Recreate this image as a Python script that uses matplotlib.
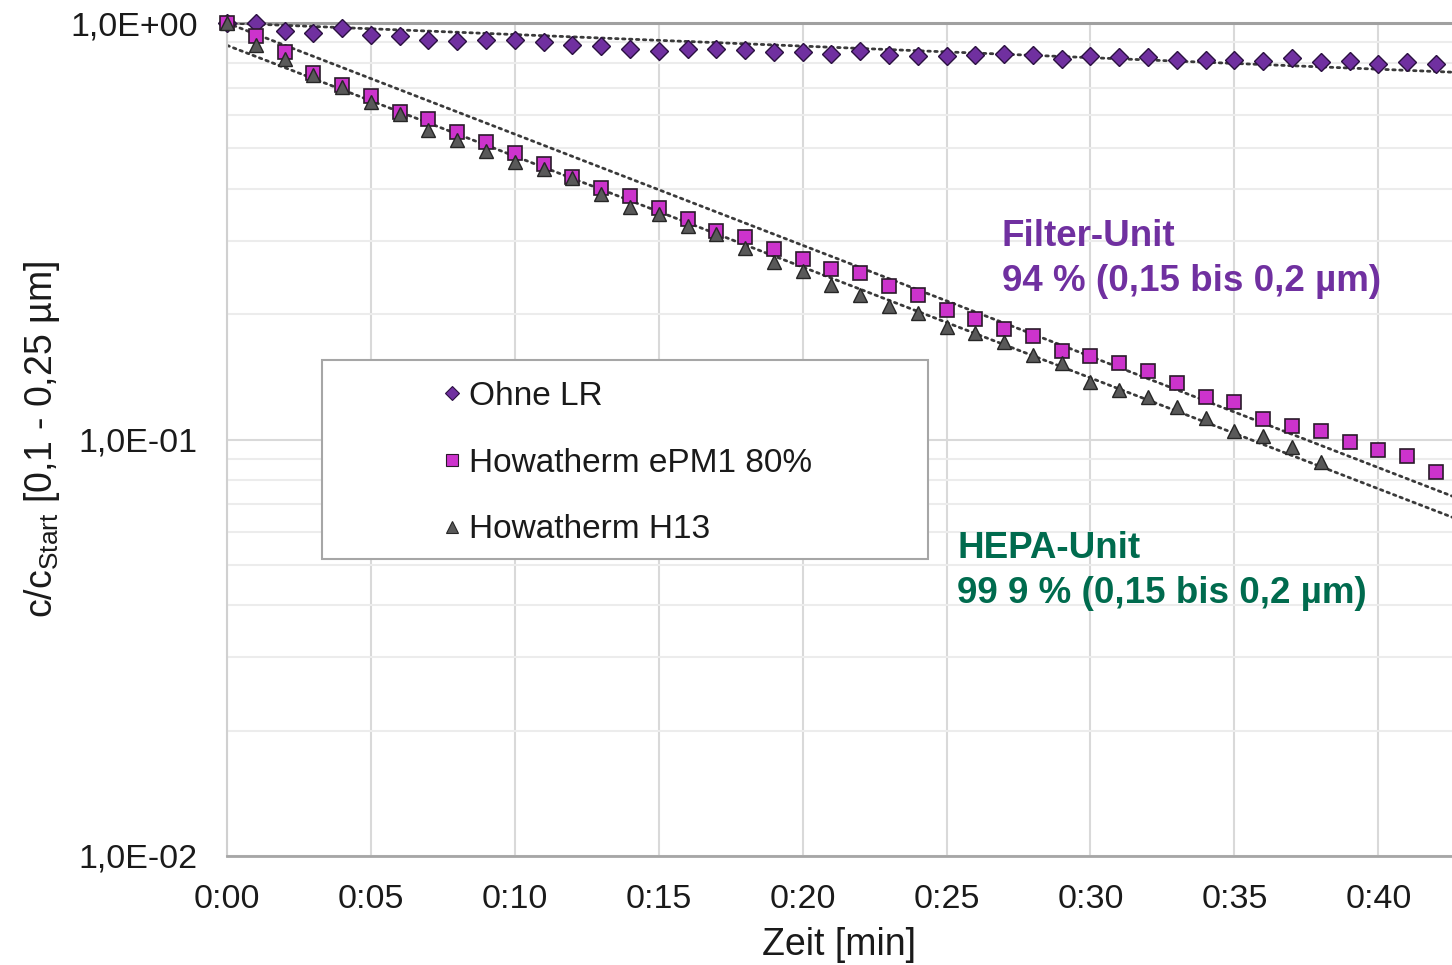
import numpy as np
import matplotlib
matplotlib.use("Agg")
import matplotlib.pyplot as plt
from matplotlib.lines import Line2D
from matplotlib.patches import Rectangle

plt.rcParams['font.family'] = ['Liberation Sans', 'DejaVu Sans']
plt.rcParams['mathtext.fontset'] = 'custom'
plt.rcParams['mathtext.rm'] = 'Liberation Sans'

# ---- data (minutes, c/c_start) ----
t_ohne = list(range(0, 43))
c_ohne = [1.000, 0.998, 0.958, 0.945, 0.971, 0.936, 0.929, 0.912, 0.907, 0.912,
          0.912, 0.899, 0.885, 0.882, 0.866, 0.855, 0.866, 0.866, 0.861, 0.851,
          0.853, 0.843, 0.855, 0.839, 0.835, 0.832, 0.838, 0.841, 0.838, 0.820,
          0.833, 0.827, 0.830, 0.816, 0.815, 0.815, 0.811, 0.823, 0.805, 0.812,
          0.797, 0.805, 0.797]

t_epm1 = list(range(0, 43))
c_epm1 = [1.000, 0.932, 0.850, 0.759, 0.710, 0.669, 0.610, 0.588, 0.548, 0.517,
          0.488, 0.459, 0.426, 0.401, 0.384, 0.359, 0.338, 0.317, 0.306, 0.287,
          0.272, 0.257, 0.251, 0.234, 0.222, 0.205, 0.195, 0.184, 0.1775, 0.163,
          0.159, 0.1527, 0.1463, 0.1367, 0.1263, 0.1232, 0.112, 0.1076, 0.105, 0.0988,
          0.0945, 0.0911, 0.0837]

t_h13 = list(range(0, 39))
c_h13 = [1.000, 0.885, 0.820, 0.750, 0.701, 0.645, 0.605, 0.554, 0.525, 0.493,
         0.465, 0.446, 0.424, 0.3886, 0.361, 0.347, 0.326, 0.311, 0.288, 0.267,
         0.2535, 0.2355, 0.222, 0.209, 0.201, 0.186, 0.180, 0.171, 0.1595, 0.1527,
         0.1372, 0.1317, 0.1263, 0.1195, 0.1124, 0.105, 0.1018, 0.0958, 0.0882]

labels = ["Ohne LR", "Howatherm ePM1 80%", "Howatherm H13"]
x_ticks = [0, 5, 10, 15, 20, 25, 30, 35, 40]
x_ticklabels = ["0:00", "0:05", "0:10", "0:15", "0:20", "0:25", "0:30", "0:35", "0:40"]
y_ticks = [0.01, 0.1, 1.0]
y_ticklabels = ["1,0E-02", "1,0E-01", "1,0E+00"]

W, H = 1452, 965
fig = plt.figure(figsize=(W / 100, H / 100), dpi=100)
ax = fig.add_axes([227 / W, 1 - 856 / H, (1452 - 227) / W, (856 - 23) / H])

ax.set_yscale('log')
ax.set_xlim(0, 42.56)
ax.set_ylim(0.01, 1.0)

# grid
ax.set_axisbelow(True)
ax.grid(True, which='major', axis='x', color='#d9d9d9', lw=1.5)
ax.grid(True, which='major', axis='y', color='#d9d9d9', lw=1.5)
ax.grid(True, which='minor', axis='y', color='#ececec', lw=1.5)
ax.axhline(1.0, color='#a0a0a0', lw=2.2, zorder=1.5, clip_on=False)

for s in ['top', 'right']:
    ax.spines[s].set_visible(False)
ax.spines['left'].set_color('#d0d0d0')
ax.spines['left'].set_linewidth(1.5)
ax.spines['bottom'].set_color('#a6a6a6')
ax.spines['bottom'].set_linewidth(2)

ax.set_xticks(x_ticks)
ax.set_xticklabels(x_ticklabels)
ax.set_yticks(y_ticks)
ax.set_yticklabels(y_ticklabels)
ax.tick_params(axis='both', which='both', length=0, labelsize=24.5, colors='#1a1a1a')
ax.tick_params(axis='x', pad=20)
ax.tick_params(axis='y', pad=21)

# trend lines (exponential fits)
tf = np.linspace(0, 42.56, 300)
to = np.array(t_ohne, float); lo = np.log(np.array(c_ohne))
k_o = np.sum(to * lo) / np.sum(to ** 2)
te = np.array(t_epm1, float); le = np.log(np.array(c_epm1))
k_e = np.sum(te * le) / np.sum(te ** 2)
th = np.array(t_h13, float); lh = np.log(np.array(c_h13))
b_h, a_h = np.polyfit(th, lh, 1)

line_kw = dict(color='#3a3a3a', lw=2.0, dashes=(0.9, 1.6), dash_capstyle='round', zorder=2)
ax.plot(tf, np.exp(k_o * tf), **line_kw)
ax.plot(tf, np.exp(k_e * tf), **line_kw)
ax.plot(tf, np.exp(a_h + b_h * tf), **line_kw)

# markers
ax.plot(t_ohne, c_ohne, ls='none', marker='D', ms=9.3, mfc='#7030A0', mec='#2a1040', mew=1.0, zorder=3, clip_on=False)
ax.plot(t_epm1, c_epm1, ls='none', marker='s', ms=9.8, mfc='#CC33CC', mec='#2a1a2a', mew=1.2, zorder=3, clip_on=False)
ax.plot(t_h13, c_h13, ls='none', marker='^', ms=10.5, mfc='#595959', mec='#262626', mew=1.0, zorder=4, clip_on=False)

ax.set_xlabel("Zeit [min]", fontsize=27, color='#1a1a1a', labelpad=9)
ax.set_ylabel(r"c/c$_{\mathregular{Start}}$ [0,1 - 0,25 µm]", fontsize=27, color='#1a1a1a', labelpad=6)

# legend box
rect = Rectangle((322 / W, 1 - 559 / H), 606 / W, 199 / H, transform=fig.transFigure,
                 facecolor='white', edgecolor='#a6a6a6', lw=1.5, zorder=5)
fig.patches.append(rect)
handles = [
    Line2D([], [], ls='none', marker='D', ms=7.5, mfc='#7030A0', mec='#2a1040', mew=0.8),
    Line2D([], [], ls='none', marker='s', ms=8.5, mfc='#CC33CC', mec='#2a1a2a', mew=0.8),
    Line2D([], [], ls='none', marker='^', ms=8.5, mfc='#595959', mec='#262626', mew=0.8),
]
leg = fig.legend(handles, labels, loc='center left', bbox_to_anchor=(444 / W, 1 - 463 / H),
                 frameon=False, fontsize=24, handlelength=0.5, handletextpad=0.25,
                 labelspacing=1.07, borderpad=0, borderaxespad=0)
for txt in leg.get_texts():
    txt.set_color('#1a1a1a')
leg.set_zorder(6)

# annotations
fig.text(1002 / W, 1 - 219 / H, "Filter-Unit\n94 % (0,15 bis 0,2 µm)", color='#7030A0',
         fontsize=26.5, fontweight='bold', va='top', ha='left', linespacing=1.37)
fig.text(957 / W, 1 - 531 / H, "HEPA-Unit\n99 9 % (0,15 bis 0,2 µm)", color='#006B4E',
         fontsize=26.5, fontweight='bold', va='top', ha='left', linespacing=1.37)

fig.savefig("out.png", dpi=100, facecolor='white')
